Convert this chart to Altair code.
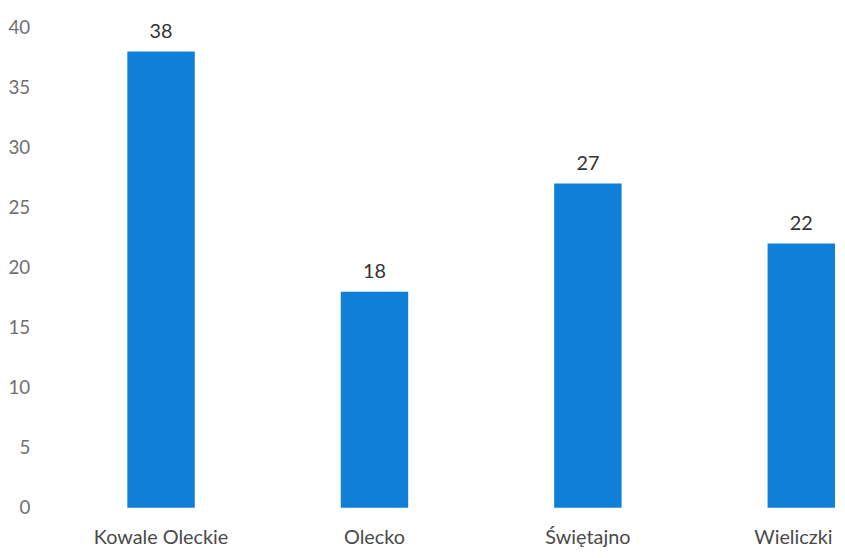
import altair as alt
import pandas as pd

categories = ["Kowale Oleckie", "Olecko", "Świętajno", "Wieliczki"]
values = [38, 18, 27, 22]
y_ticks = [0, 5, 10, 15, 20, 25, 30, 35, 40]

df = pd.DataFrame({"gmina": categories, "liczba": values})

FONT = "Lato"

x = alt.X(
    "gmina:N",
    sort=categories,
    title=None,
    scale=alt.Scale(paddingInner=0.684, paddingOuter=0.21, align=1),
    axis=alt.Axis(
        labelAngle=0, domain=False, ticks=False, grid=False,
        labelFont=FONT, labelFontSize=20, labelColor="#4a4a4a",
        labelPadding=20, labelOverlap=False, labelBound=False,
        labelOffset={"condition": {"test": "datum.value == 'Wieliczki'", "value": -8}, "value": 0},
    ),
)
y = alt.Y(
    "liczba:Q",
    title=None,
    scale=alt.Scale(domain=[0, 40], nice=False),
    axis=alt.Axis(
        values=y_ticks, domain=False, ticks=False, grid=False,
        labelFont=FONT, labelFontSize=19, labelColor="#707070",
        labelPadding=8,
    ),
)

bars = alt.Chart(df).mark_bar(color="#107fd8").encode(x=x, y=y)
labels = alt.Chart(df).mark_text(
    font=FONT, fontSize=20, color="#333333", baseline="alphabetic", dy=-14
).encode(x=x, y=y, text="liczba:Q")

chart = (
    alt.layer(bars, labels)
    .properties(
        width=805,
        height=485,
        background="white",
        autosize=alt.AutoSizeParams(type="none"),
        padding={"left": 30, "top": 17, "right": 2, "bottom": 40},
    )
    .configure_view(strokeWidth=0)
)

chart.save("out.html", embed_options={"renderer": "svg", "actions": False})
